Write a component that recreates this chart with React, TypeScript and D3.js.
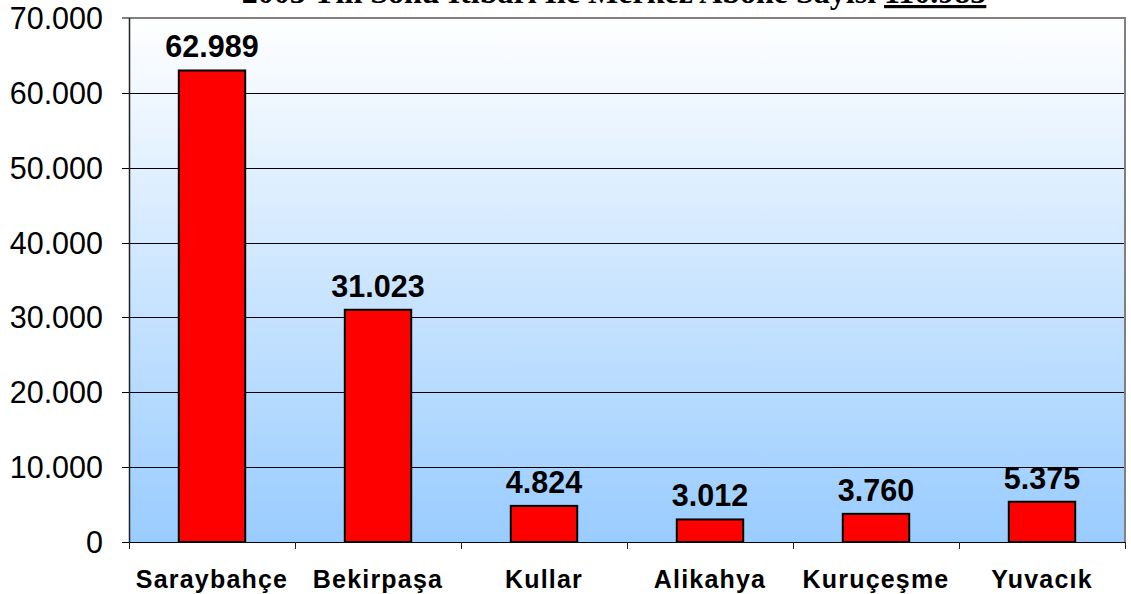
import React, { useRef, useEffect } from 'react';
import * as d3 from 'd3';

// 2003 year-end subscriber counts per district
const districts = ['Saraybahçe', 'Bekirpaşa', 'Kullar', 'Alikahya', 'Kuruçeşme', 'Yuvacık'];
const subscribers = [62989, 31023, 4824, 3012, 3760, 5375];
const yTicks = [0, 10000, 20000, 30000, 40000, 50000, 60000, 70000];
const titleText = '2003 Yılı Sonu İtibari İle Merkez Abone Sayısı ';
const totalText = '110.983';

const fmt = (v: number) => d3.format(',')(v).replace(/,/g, '.');

const App = () => {
  const svgRef = useRef<SVGSVGElement>(null);

  useEffect(() => {
    const width = 1131;
    const height = 594;
    const margin = { top: 18, right: 6, bottom: 52, left: 129 };
    const innerWidth = width - margin.left - margin.right;
    const innerHeight = height - margin.top - margin.bottom;

    const svg = d3.select(svgRef.current);
    svg.selectAll('*').remove();
    svg.attr('width', width).attr('height', height);

    // background gradient of plot area
    const grad = svg
      .append('defs')
      .append('linearGradient')
      .attr('id', 'bg')
      .attr('x1', 0)
      .attr('y1', 0)
      .attr('x2', 0)
      .attr('y2', 1);
    grad.append('stop').attr('offset', '0%').attr('stop-color', '#ffffff');
    grad.append('stop').attr('offset', '100%').attr('stop-color', '#99ccff');

    const chart = svg
      .append('g')
      .attr('transform', `translate(${margin.left},${margin.top})`);

    const x = d3.scaleBand().domain(districts).range([0, innerWidth]).paddingInner(0.6).paddingOuter(0.3);
    const xOuter = d3.scaleBand().domain(districts).range([0, innerWidth]);
    const y = d3.scaleLinear().domain([0, 70000]).range([innerHeight, 0]);

    chart
      .append('rect')
      .attr('width', innerWidth)
      .attr('height', innerHeight)
      .attr('fill', 'url(#bg)');

    // gridlines + y ticks
    chart
      .selectAll('line.grid')
      .data(yTicks.filter(t => t < 70000))
      .enter()
      .append('line')
      .attr('class', 'grid')
      .attr('x1', -7)
      .attr('x2', innerWidth)
      .attr('y1', d => Math.round(y(d)) + 0.5)
      .attr('y2', d => Math.round(y(d)) + 0.5)
      .attr('stroke', '#000')
      .attr('stroke-width', 1.2);

    // top and right border (gray)
    chart
      .append('path')
      .attr('d', `M0,${y(70000)} H${innerWidth} V${innerHeight}`)
      .attr('fill', 'none')
      .attr('stroke', '#808080')
      .attr('stroke-width', 2);
    chart
      .append('line')
      .attr('x1', -7)
      .attr('x2', 0)
      .attr('y1', y(70000))
      .attr('y2', y(70000))
      .attr('stroke', '#000');

    // y axis line
    chart
      .append('line')
      .attr('x1', 0.5)
      .attr('x2', 0.5)
      .attr('y1', 0)
      .attr('y2', innerHeight)
      .attr('stroke', '#222')
      .attr('stroke-width', 1.5);

    // x axis ticks at category boundaries
    const bounds = districts.map(d => xOuter(d) as number).concat([innerWidth]);
    chart
      .selectAll('line.xtick')
      .data(bounds)
      .enter()
      .append('line')
      .attr('class', 'xtick')
      .attr('x1', d => Math.round(d) + 0.5)
      .attr('x2', d => Math.round(d) + 0.5)
      .attr('y1', innerHeight)
      .attr('y2', innerHeight + 7)
      .attr('stroke', '#222');

    // y labels
    chart
      .selectAll('text.ylab')
      .data(yTicks)
      .enter()
      .append('text')
      .attr('class', 'ylab')
      .attr('x', -26)
      .attr('y', d => y(d))
      .attr('dy', '0.36em')
      .attr('text-anchor', 'end')
      .attr('font-family', 'Liberation Sans, Arial, sans-serif')
      .attr('font-size', '30.5px')
      .attr('fill', '#000')
      .text(d => fmt(d));

    // bars
    chart
      .selectAll('rect.bar')
      .data(subscribers)
      .enter()
      .append('rect')
      .attr('class', 'bar')
      .attr('x', (d, i) => x(districts[i]) as number)
      .attr('y', d => y(d))
      .attr('width', x.bandwidth())
      .attr('height', d => innerHeight - y(d))
      .attr('fill', '#ff0000')
      .attr('stroke', '#000')
      .attr('stroke-width', 2);

    // value labels
    chart
      .selectAll('text.val')
      .data(subscribers)
      .enter()
      .append('text')
      .attr('class', 'val')
      .attr('x', (d, i) => (x(districts[i]) as number) + x.bandwidth() / 2)
      .attr('y', d => y(d) - 13)
      .attr('text-anchor', 'middle')
      .attr('font-family', 'Liberation Sans, Arial, sans-serif')
      .attr('font-weight', 'bold')
      .attr('font-size', '30.5px')
      .attr('fill', '#000')
      .text(d => fmt(d));

    // category labels
    chart
      .selectAll('text.cat')
      .data(districts)
      .enter()
      .append('text')
      .attr('class', 'cat')
      .attr('x', d => (xOuter(d) as number) + xOuter.bandwidth() / 2)
      .attr('y', innerHeight + 46)
      .attr('text-anchor', 'middle')
      .attr('font-family', 'Liberation Sans, Arial, sans-serif')
      .attr('font-weight', 'bold')
      .attr('font-size', '25px')
      .attr('letter-spacing', '1.2px')
      .attr('fill', '#000')
      .text(d => d);

    // title (cut off at the top, as in the source slide)
    const title = svg
      .append('text')
      .attr('x', 614)
      .attr('y', 3)
      .attr('text-anchor', 'middle')
      .attr('font-family', 'Liberation Serif, Times New Roman, serif')
      .attr('font-weight', 'bold')
      .attr('font-size', '32px')
      .attr('fill', '#000');
    title.append('tspan').text(titleText);
    title.append('tspan').attr('text-decoration', 'underline').text(totalText);
  }, []);

  return (
    <div style={{ position: 'absolute', left: 0, top: 0 }}>
      <svg ref={svgRef} style={{ display: 'block' }}></svg>
    </div>
  );
};

export default App;
